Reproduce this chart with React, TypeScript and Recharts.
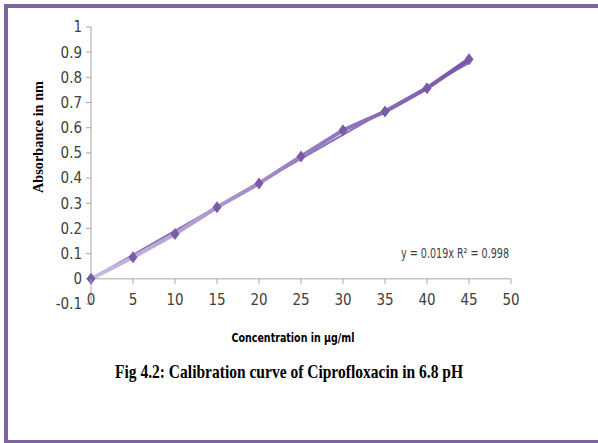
import { LineChart, Line, XAxis, YAxis, ReferenceLine } from "recharts";

const conc = [0, 5, 10, 15, 20, 25, 30, 35, 40, 45];
const absorb = [0, 0.086, 0.178, 0.284, 0.379, 0.486, 0.59, 0.664, 0.757, 0.872];
const trendX = [0, 45];
const trendY = [0, 0.858];
const xTicks = [0, 5, 10, 15, 20, 25, 30, 35, 40, 45, 50];
const yTicks = [-0.1, 0, 0.1, 0.2, 0.3, 0.4, 0.5, 0.6, 0.7, 0.8, 0.9, 1];

const points = conc.map((x, i) => ({ x, y: absorb[i] }));
const trend = trendX.map((x, i) => ({ x, y: trendY[i] }));

const PURPLE = "#8064A2", MARK = "#7A5BA8", AXIS = "#A6A6A6", TXT = "#404040";
const NARROW = '"Liberation Sans Narrow", "DejaVu Sans Condensed", Arial, sans-serif';
const SERIF = '"Liberation Serif", "Times New Roman", serif';
const ZERO_OFF = 25.2; // pixels between the -0.1 floor and the 0 line

function XTick({ x, y, payload }: any) {
  return (
    <g>
      <line x1={x} x2={x} y1={y - ZERO_OFF} y2={y - ZERO_OFF + 5} stroke={AXIS} />
      <text x={x} y={y + 1} textAnchor="middle" fill={TXT} fontSize={15} fontFamily={NARROW}>{payload.value}</text>
    </g>
  );
}

function Diamond({ cx, cy }: any) {
  if (cx == null || cy == null) return null;
  return <polygon points={`${cx},${cy - 6} ${cx + 4.5},${cy} ${cx},${cy + 6} ${cx - 4.5},${cy}`} fill={MARK} />;
}

export default function App() {
  return (
    <div style={{ position: "absolute", left: 0, top: 0, width: 598, height: 443, background: "#fff", overflow: "hidden" }}>
      <div style={{ position: "absolute", left: 4, top: 4, right: 0, bottom: 0, borderLeft: `4px solid ${PURPLE}`, borderTop: `4px solid ${PURPLE}`, borderBottom: `3px solid ${PURPLE}` }} />
      <svg width={598} height={443} style={{ position: "absolute", left: 0, top: 0 }}>
        <text x={0} y={0} transform="translate(43,137) rotate(-90)" textAnchor="middle" fontFamily={SERIF} fontWeight="bold" fontSize={15} fill="#000" textLength={112} lengthAdjust="spacingAndGlyphs">Absorbance in nm</text>
        <text x={293} y={342} textAnchor="middle" fontFamily={NARROW} fontWeight="bold" fontSize={13} fill="#000" textLength={123} lengthAdjust="spacingAndGlyphs">Concentration in µg/ml</text>
        <text x={289} y={378} textAnchor="middle" fontFamily={SERIF} fontWeight="bold" fontSize={19} fill="#000" textLength={348} lengthAdjust="spacingAndGlyphs">Fig 4.2: Calibration curve of Ciprofloxacin in 6.8 pH</text>
        <text x={455} y={258} textAnchor="middle" fontFamily={NARROW} fontSize={14} fill={TXT} textLength={108} lengthAdjust="spacingAndGlyphs">y = 0.019x R² = 0.998</text>
      </svg>
      <div style={{ position: "absolute", left: 0, top: 0 }}>
        <LineChart width={598} height={443} margin={{ top: 27, right: 87, bottom: 109, left: 0 }}>
          <defs>
            <linearGradient id="dataGrad" x1="0" y1="0" x2="1" y2="0">
              <stop offset="0%" stopColor="#C9BADF" />
              <stop offset="55%" stopColor="#9A80C4" />
              <stop offset="100%" stopColor="#7556A8" />
            </linearGradient>
          </defs>
          <XAxis dataKey="x" type="number" domain={[0, 50]} ticks={xTicks} interval={0} axisLine={false} tickLine={false} tickSize={0} tickMargin={0} height={30} tick={<XTick />} />
          <YAxis type="number" domain={[-0.1, 1]} ticks={yTicks} interval={0} width={91} stroke={AXIS} tickSize={5} tickMargin={4} tick={{ fill: TXT, fontSize: 15, fontFamily: NARROW }} />
          <ReferenceLine y={0} stroke={AXIS} />
          <Line data={trend} dataKey="y" type="linear" stroke="#8A6EB8" strokeWidth={2} dot={false} isAnimationActive={false} />
          <Line data={points} dataKey="y" type="linear" stroke="url(#dataGrad)" strokeWidth={4} dot={<Diamond />} activeDot={false} isAnimationActive={false} />
        </LineChart>
      </div>
    </div>
  );
}
